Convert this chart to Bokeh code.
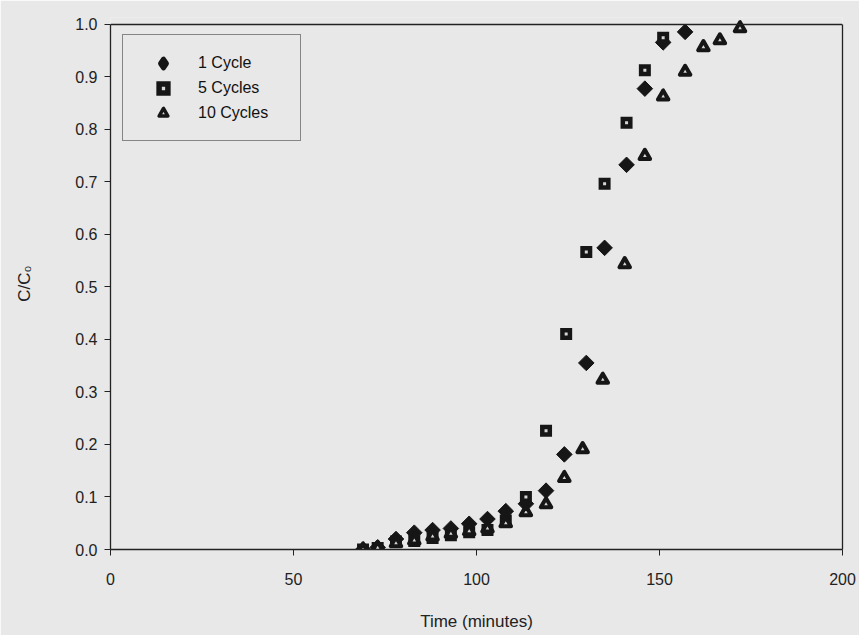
import math
from bokeh.plotting import figure
from bokeh.models import (Legend, LegendItem, FixedTicker, PrintfTickFormatter, LinearAxis,
                          ColumnDataSource)
from bokeh.embed import file_html
from bokeh.resources import INLINE

# 1 Cycle (diamonds)
t1 = [69, 73, 78, 83, 88, 93, 98, 103, 108, 113.5, 119, 124, 130, 135, 141, 146, 151, 157]
c1 = [0.0, 0.004, 0.020, 0.032, 0.037, 0.040, 0.049, 0.058, 0.073, 0.087, 0.112, 0.181,
      0.355, 0.574, 0.732, 0.877, 0.965, 0.985]
# 5 Cycles (squares)
t5 = [69, 73, 78, 83, 88, 93, 98, 103, 108, 113.5, 119, 124.5, 130, 135, 141, 146, 151]
c5 = [0.0, 0.003, 0.015, 0.016, 0.022, 0.027, 0.033, 0.037, 0.055, 0.100, 0.226, 0.410,
      0.566, 0.696, 0.812, 0.912, 0.974]
# 10 Cycles (triangles)
t10 = [69, 73, 78, 83, 88, 93, 98, 103, 108, 113.5, 119, 124, 129, 134.5, 140.5, 146, 151,
       157, 162, 166.5, 172]
c10 = [0.0, 0.003, 0.012, 0.017, 0.025, 0.030, 0.035, 0.040, 0.050, 0.071, 0.086, 0.136,
       0.191, 0.323, 0.543, 0.749, 0.862, 0.909, 0.956, 0.969, 0.992]

x_ticks = [0, 50, 100, 150, 200]
y_ticks = [0.0, 0.1, 0.2, 0.3, 0.4, 0.5, 0.6, 0.7, 0.8, 0.9, 1.0]
labels = ["1 Cycle", "5 Cycles", "10 Cycles"]

X0, X1 = x_ticks[0], x_ticks[-1]
Y0, Y1 = y_ticks[0], y_ticks[-1]

BG = "#e8e8e8"
INK = "#161616"
LINE = "#222222"

# frame geometry (pixels): y=0 at 549 (frame bottom), y=1 at 23.5, frame top 17
FT, FB = 17, 549
ppu = 549 - 23.5
y_end = Y1 + (23.5 - FT) / ppu

p = figure(width=859, height=635, x_range=(X0, X1), y_range=(Y0, y_end),
           output_backend="svg", toolbar_location=None)
p.min_border_left = 110
p.min_border_right = 17
p.min_border_top = FT
p.min_border_bottom = 635 - FB
p.background_fill_color = BG
p.border_fill_color = BG
p.outline_line_color = None
p.xgrid.visible = False
p.ygrid.visible = False

xa, ya = p.xaxis[0], p.yaxis[0]
ya.bounds = (Y0, Y1)
for ax in (xa, ya):
    ax.axis_line_color = LINE
    ax.axis_line_width = 1.3
    ax.major_tick_line_color = LINE
    ax.major_tick_out = 6
    ax.major_tick_in = 0
    ax.minor_tick_line_color = None
    ax.major_label_text_font = "Liberation Sans"
    ax.major_label_text_font_size = "16px"
    ax.major_label_text_color = "#222222"
    ax.axis_label_text_font = "Liberation Sans"
    ax.axis_label_text_font_size = "17px"
    ax.axis_label_text_font_style = "normal"
    ax.axis_label_text_color = "#222222"

xa.ticker = FixedTicker(ticks=x_ticks)
ya.ticker = FixedTicker(ticks=y_ticks)
ya.formatter = PrintfTickFormatter(format="%.1f")
xa.formatter = PrintfTickFormatter(format="%d")
xa.axis_label = "Time (minutes)"
ya.axis_label = "C/C\u2080"
xa.major_label_standoff = 17
xa.axis_label_standoff = 24
ya.major_label_standoff = 7
ya.axis_label_standoff = 38

# frame box: top and right edges
top_ax = LinearAxis(fixed_location=Y1, ticker=FixedTicker(ticks=[]), bounds=(X0, X1),
                    axis_line_color=LINE, axis_line_width=1.3)
right_ax = LinearAxis(ticker=FixedTicker(ticks=[]), bounds=(Y0, Y1),
                      axis_line_color=LINE, axis_line_width=1.3)
p.add_layout(top_ax, "above")
p.add_layout(right_ax, "right")

s1 = ColumnDataSource(dict(x=t1, y=c1))
s5 = ColumnDataSource(dict(x=t5, y=c5))
s10 = ColumnDataSource(dict(x=t10, y=c10))

# legend glyph styles: drawn first and tiny, so the plot markers cover them
l1 = p.scatter("x", "y", source=s1, marker="diamond", size=1,
               fill_color=INK, line_color=INK, line_width=5, line_join="round")
l5 = p.scatter("x", "y", source=s5, marker="square", size=1,
               fill_color="#d6d6d6", line_color=INK, line_width=5.5, line_join="miter")
l10 = p.scatter("x", "y", source=s10, marker="triangle", size=1,
                fill_color="#d6d6d6", line_color=INK, line_width=3.5, line_join="round")

r1 = p.scatter("x", "y", source=s1, marker="square", angle=math.pi / 4, size=11,
               fill_color=INK, line_color=INK, line_width=1)
r5 = p.scatter("x", "y", source=s5, marker="square", size=7.5, fill_color="#d6d6d6",
               line_color=INK, line_width=4.5, line_join="miter")
r10 = p.scatter("x", "y", source=s10, marker="triangle", size=10.5, fill_color="#d6d6d6",
                line_color=INK, line_width=4, line_join="round")

legend = Legend(items=[
    LegendItem(label=labels[0], renderers=[l1]),
    LegendItem(label=labels[1], renderers=[l5]),
    LegendItem(label=labels[2], renderers=[l10]),
], location=(12, FB - 141))
legend.padding = 15
legend.spacing = 0
legend.glyph_width = 50
legend.glyph_height = 22
legend.label_height = 25
legend.label_standoff = 10
legend.label_width = 87
legend.label_text_font = "Liberation Sans"
legend.label_text_font_size = "16px"
legend.label_text_color = "#111111"
legend.background_fill_color = BG
legend.background_fill_alpha = 1.0
legend.border_line_color = LINE
legend.border_line_width = 1
p.add_layout(legend)

open("out.html", "w").write(file_html(p, INLINE))
